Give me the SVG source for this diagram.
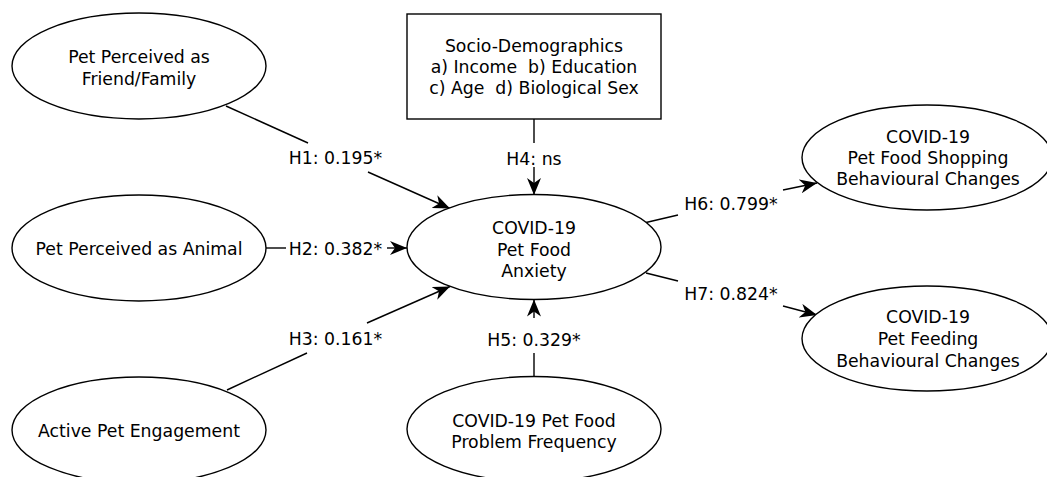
<svg xmlns="http://www.w3.org/2000/svg" width="1047" height="477" viewBox="0 0 1047 477">
<style>
  .node { fill: #ffffff; stroke: #000000; stroke-width: 1.4; }
  .lbl { font-family: "DejaVu Sans", "Liberation Sans", sans-serif; font-size: 17.3px; fill: #000000; text-anchor: middle; white-space: pre; }
  .edge { stroke: #000000; stroke-width: 1.4; fill: none; }
</style>
<defs>
  <marker id="arr" markerUnits="userSpaceOnUse" markerWidth="18" markerHeight="14" viewBox="0 0 18 14" refX="17" refY="7" orient="auto">
    <path d="M0,0 L17,7 L0,14 L5,7 Z" fill="#000000"/>
  </marker>
</defs>
<rect width="1047" height="477" fill="#ffffff"/>

<g id="connectors">
  <line class="edge" x1="226" y1="106" x2="308" y2="143"/>
  <line class="edge" x1="368" y1="172" x2="450" y2="208.5" marker-end="url(#arr)"/>
  <line class="edge" x1="266" y1="248" x2="286" y2="248"/>
  <line class="edge" x1="387" y1="248" x2="407" y2="248" marker-end="url(#arr)"/>
  <line class="edge" x1="227" y1="390" x2="307" y2="353"/>
  <line class="edge" x1="367" y1="323" x2="450" y2="286.5" marker-end="url(#arr)"/>
  <line class="edge" x1="534" y1="119" x2="534" y2="143"/>
  <line class="edge" x1="534" y1="167" x2="534" y2="195" marker-end="url(#arr)"/>
  <line class="edge" x1="534" y1="377" x2="534" y2="353"/>
  <line class="edge" x1="534" y1="318" x2="534" y2="299.5" marker-end="url(#arr)"/>
  <line class="edge" x1="646" y1="222.5" x2="678" y2="215"/>
  <line class="edge" x1="783" y1="190" x2="817" y2="183" marker-end="url(#arr)"/>
  <line class="edge" x1="646" y1="273" x2="678" y2="281"/>
  <line class="edge" x1="783" y1="306" x2="817" y2="315" marker-end="url(#arr)"/>
  <text class="lbl" x="335.5" y="164">H1: 0.195*</text>
  <text class="lbl" x="335.5" y="255">H2: 0.382*</text>
  <text class="lbl" x="335.5" y="345">H3: 0.161*</text>
  <text class="lbl" x="534" y="165">H4: ns</text>
  <text class="lbl" x="534" y="346">H5: 0.329*</text>
  <text class="lbl" x="731" y="210">H6: 0.799*</text>
  <text class="lbl" x="731" y="300">H7: 0.824*</text>
</g>

<g id="friend">
  <ellipse class="node" cx="139" cy="66" rx="127" ry="53"/>
  <text class="lbl" x="139" y="63">Pet Perceived as</text>
  <text class="lbl" x="139" y="85">Friend/Family</text>
</g>
<g id="animal">
  <ellipse class="node" cx="139" cy="248" rx="127" ry="53"/>
  <text class="lbl" x="139" y="255">Pet Perceived as Animal</text>
</g>
<g id="engagement">
  <ellipse class="node" cx="139" cy="430" rx="127" ry="53"/>
  <text class="lbl" x="139" y="437">Active Pet Engagement</text>
</g>
<g id="socio">
  <rect class="node" x="407" y="14" width="254" height="105"/>
  <text class="lbl" x="534" y="52">Socio-Demographics</text>
  <text class="lbl" x="534" y="73">a) Income  b) Education</text>
  <text class="lbl" x="534" y="94">c) Age  d) Biological Sex</text>
</g>
<g id="anxiety">
  <ellipse class="node" cx="534" cy="247" rx="127" ry="52.5"/>
  <text class="lbl" x="534" y="234">COVID-19</text>
  <text class="lbl" x="534" y="255.5">Pet Food</text>
  <text class="lbl" x="534" y="277">Anxiety</text>
</g>
<g id="frequency">
  <ellipse class="node" cx="534" cy="429" rx="127" ry="52.5"/>
  <text class="lbl" x="534" y="427">COVID-19 Pet Food</text>
  <text class="lbl" x="534" y="448">Problem Frequency</text>
</g>
<g id="shopping">
  <ellipse class="node" cx="927" cy="157.5" rx="125" ry="52.5"/>
  <text class="lbl" x="928" y="143">COVID-19</text>
  <text class="lbl" x="928" y="164">Pet Food Shopping</text>
  <text class="lbl" x="928" y="185">Behavioural Changes</text>
</g>
<g id="feeding">
  <ellipse class="node" cx="927" cy="338.5" rx="125" ry="52.5"/>
  <text class="lbl" x="928" y="323">COVID-19</text>
  <text class="lbl" x="928" y="345">Pet Feeding</text>
  <text class="lbl" x="928" y="366.5">Behavioural Changes</text>
</g>
</svg>
